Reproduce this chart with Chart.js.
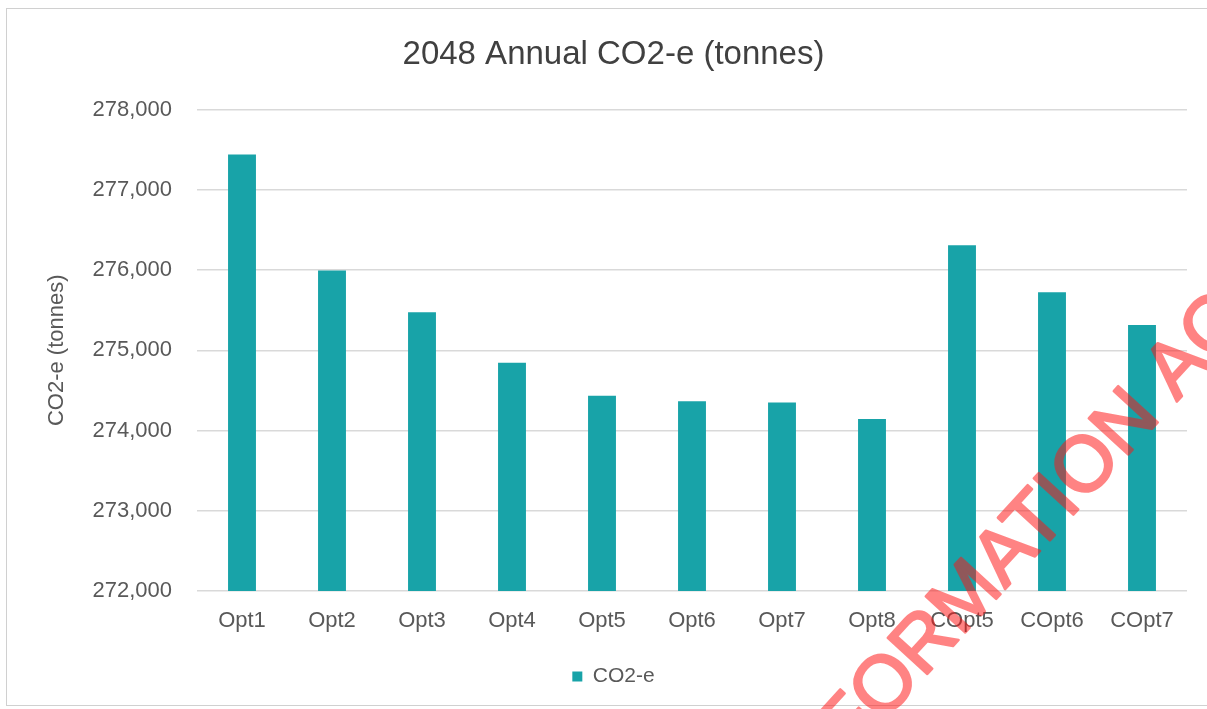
<!DOCTYPE html>
<html>
<head>
<meta charset="utf-8">
<script src="https://cdn.jsdelivr.net/npm/chart.js@4/dist/chart.umd.min.js"></script>
<style>
  html, body { margin: 0; padding: 0; background: #ffffff; }
  #wrap { position: relative; width: 1207px; height: 709px; }
  canvas { display: block; }
</style>
</head>
<body>
<div id="wrap"><canvas id="c" width="1207" height="709"></canvas></div>
<script>
// ---- data ----
const categories = ["Opt1", "Opt2", "Opt3", "Opt4", "Opt5", "Opt6", "Opt7", "Opt8", "COpt5", "COpt6", "COpt7"];
const co2Values = [277440, 275995, 275475, 274845, 274435, 274365, 274350, 274145, 276310, 275725, 275315];
const seriesName = "CO2-e";
const chartTitle = "2048 Annual CO2-e (tonnes)";
const yAxisTitle = "CO2-e (tonnes)";
const yMin = 272000, yMax = 278000, yStep = 1000;
const watermarkText = "FORMATION AC";

const FONT = "'Liberation Sans', Arial, sans-serif";
const BAR = "rgb(24,163,168)";

const framePlugin = {
  id: 'frame',
  beforeDraw(chart) {
    const ctx = chart.ctx;
    ctx.save();
    ctx.fillStyle = '#ffffff';
    ctx.fillRect(0, 0, chart.width, chart.height);
    ctx.strokeStyle = '#d0d0d0';
    ctx.lineWidth = 1;
    ctx.strokeRect(6.5, 8.5, 1210, 697);
    ctx.restore();
  }
};

const watermarkPlugin = {
  id: 'watermark',
  afterDraw(chart) {
    const off = document.createElement('canvas');
    off.width = chart.width; off.height = chart.height;
    const o = off.getContext('2d');
    o.translate(834, 744);
    o.rotate(-47.5 * Math.PI / 180);
    o.font = "78px " + FONT;
    o.textAlign = 'left';
    o.textBaseline = 'middle';
    o.fillStyle = 'rgb(255,20,20)';
    o.strokeStyle = 'rgb(255,20,20)';
    o.lineWidth = 2.5;
    o.lineJoin = 'round';
    o.fillText(watermarkText, 0, 0);
    o.strokeText(watermarkText, 0, 0);
    const ctx = chart.ctx;
    ctx.save();
    ctx.globalAlpha = 0.52;
    ctx.drawImage(off, 0, 0);
    ctx.restore();
  }
};

new Chart(document.getElementById('c'), {
  type: 'bar',
  data: {
    labels: categories,
    datasets: [{
      label: seriesName,
      data: co2Values,
      yAxisID: 'y',
      backgroundColor: BAR,
      borderWidth: 0,
      barPercentage: 0.62,
      categoryPercentage: 0.5
    }]
  },
  options: {
    responsive: false,
    animation: false,
    devicePixelRatio: 1,
    layout: { padding: { left: 20, right: 0, top: 0, bottom: 12 } },
    plugins: {
      title: {
        display: true,
        text: chartTitle,
        color: '#404040',
        font: { family: FONT, size: 33, weight: 'normal', lineHeight: 1.2 },
        padding: { top: 35, bottom: 35 }
      },
      legend: {
        display: true,
        position: 'bottom',
        labels: {
          color: '#595959',
          font: { family: FONT, size: 21 },
          boxWidth: 10,
          boxHeight: 10,
          padding: 10
        }
      },
      tooltip: { enabled: false }
    },
    scales: {
      x: {
        grid: { display: false, drawTicks: false },
        border: { display: false },
        ticks: {
          color: '#595959',
          font: { family: FONT, size: 22 },
          padding: 17,
          maxRotation: 0,
          autoSkip: false
        },
        afterFit(scale) { scale.height = 65; }
      },
      y: {
        min: yMin,
        max: yMax,
        grid: { color: '#d9d9d9', lineWidth: 1.5, drawTicks: false },
        border: { display: false },
        ticks: {
          stepSize: yStep,
          color: '#595959',
          font: { family: FONT, size: 22 },
          padding: 25,
          callback: (v) => v.toLocaleString('en-US')
        },
        title: {
          display: true,
          text: yAxisTitle,
          color: '#595959',
          font: { family: FONT, size: 22 },
          padding: { top: 24, bottom: 0 }
        },
        afterFit(scale) { scale.width = 177; }
      },
      ySpacer: {
        position: 'right',
        display: true,
        min: yMin,
        max: yMax,
        grid: { display: false, drawTicks: false },
        border: { display: false },
        ticks: { display: false },
        afterFit(scale) { scale.width = 20; }
      }
    }
  },
  plugins: [framePlugin, watermarkPlugin]
});
</script>
</body>
</html>
